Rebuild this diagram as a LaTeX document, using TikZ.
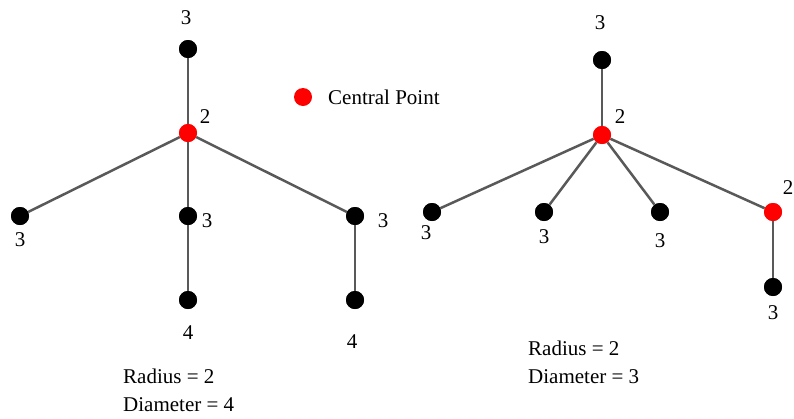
\documentclass[tikz,border=0pt]{standalone}
\usepackage{fontspec}
\setmainfont{Liberation Serif}
\newfontfamily\labelfont{Liberation Serif}
\usepackage{tikz}
\usepackage{xcolor}
\usetikzlibrary{positioning}

\begin{document}
\begin{tikzpicture}[
  x=1pt, y=-1pt,
  vert/.style={circle, fill=black, inner sep=0pt, minimum size=18pt},
  center/.style={vert, fill=red},
  num/.style={inner sep=0pt, font=\labelfont\fontsize{21}{25}\selectfont},
  note/.style={anchor=west, inner sep=0pt, font=\labelfont\fontsize{21}{25}\selectfont},
  edge/.style={draw=black!65, line width=2.5pt}
]
\useasboundingbox (0,0) rectangle (794,418);

% left tree
\node[vert] (ltop) at (188,49) {};
\node[center] (lc) at (188,133) {};
\node[vert] (lleft) at (20,216) {};
\node[vert] (lmid) at (188,216) {};
\node[vert] (lright) at (355,216) {};
\node[vert] (lmidb) at (188,300) {};
\node[vert] (lrightb) at (355,300) {};

\draw[edge] (ltop) -- (lc);
\draw[edge] (lc) -- (lleft);
\draw[edge] (lc) -- (lmid);
\draw[edge] (lc) -- (lright);
\draw[edge] (lmid) -- (lmidb);
\draw[edge] (lright) -- (lrightb);
\foreach \n in {ltop,lleft,lmid,lright,lmidb,lrightb}
  \node[vert] at (\n) {};
\node[center] at (lc) {};

\node[num] (ltopn) at (186,18) {3};
\node[num] (lcn) at (205,117) {2};
\node[num] (lleftn) at (20,240) {3};
\node[num] (lmidn) at (207,221) {3};
\node[num] (lrightn) at (383,221) {3};
\node[num] (lmidbn) at (188,333) {4};
\node[num] (lrightbn) at (352,342) {4};

\node[note] (lrad) at (123,376) {Radius = 2};
\node[note] (ldiam) at (123,405) {Diameter = 4};

% legend
\node[center] (key) at (303,97) {};
\node[note] (keytext) at (328,97) {Central Point};

% right tree
\node[vert] (rtop) at (602,60) {};
\node[center] (rc) at (602,135) {};
\node[vert] (ra) at (432,212) {};
\node[vert] (rb) at (544,212) {};
\node[vert] (rcc) at (660,212) {};
\node[center] (rd) at (773,212) {};
\node[vert] (rdb) at (773,287) {};

\draw[edge] (rtop) -- (rc);
\draw[edge] (rc) -- (ra);
\draw[edge] (rc) -- (rb);
\draw[edge] (rc) -- (rcc);
\draw[edge] (rc) -- (rd);
\draw[edge] (rd) -- (rdb);
\foreach \n in {rtop,ra,rb,rcc,rdb}
  \node[vert] at (\n) {};
\node[center] at (rc) {};
\node[center] at (rd) {};

\node[num] (rtopn) at (600,23) {3};
\node[num] (rcn) at (620,117) {2};
\node[num] (ran) at (426,233) {3};
\node[num] (rbn) at (544,237) {3};
\node[num] (rccn) at (660,241) {3};
\node[num] (rdn) at (788,188) {2};
\node[num] (rdbn) at (773,313) {3};

\node[note] (rrad) at (528,348) {Radius = 2};
\node[note] (rdiam) at (528,377) {Diameter = 3};
\end{tikzpicture}
\end{document}
